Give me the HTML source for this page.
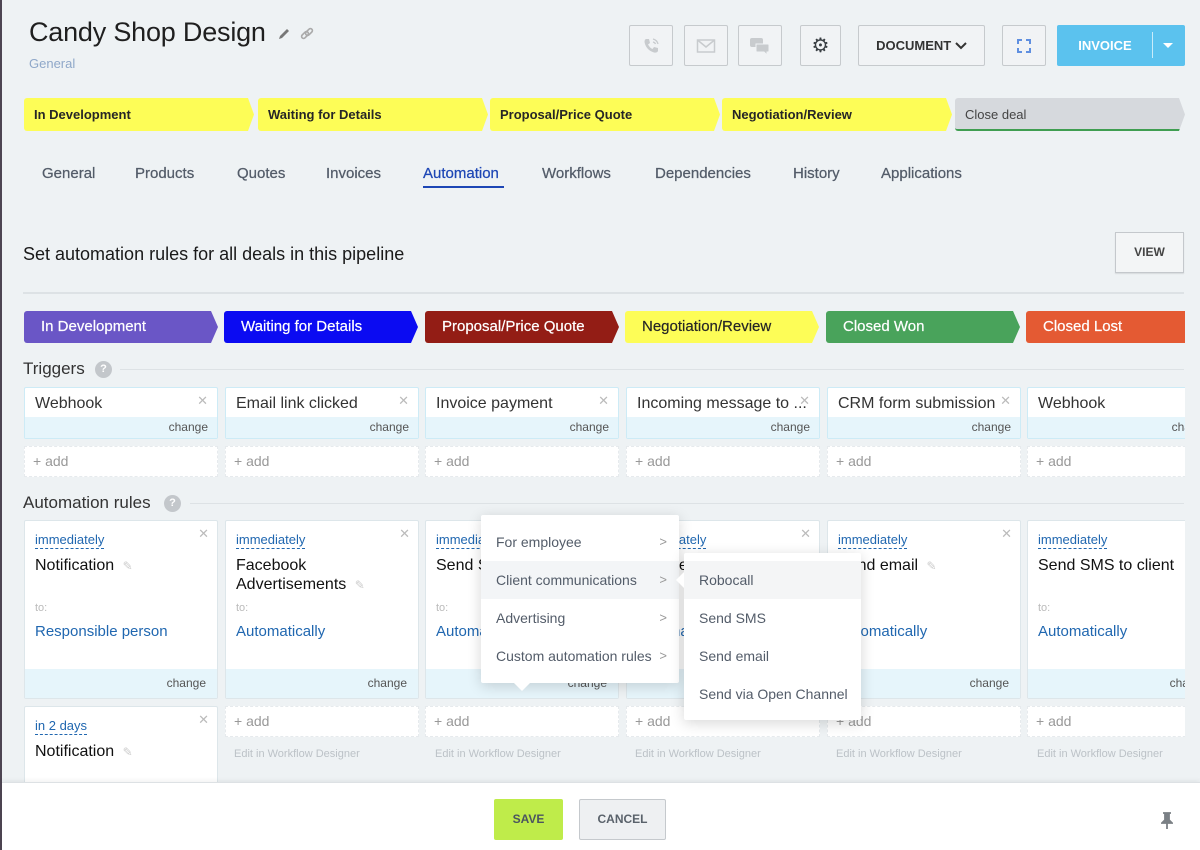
<!DOCTYPE html>
<html><head><meta charset="utf-8">
<style>
*{box-sizing:border-box;margin:0;padding:0}
body{width:1200px;height:850px;overflow:hidden;background:#eef2f4;font-family:"Liberation Sans",Arial,sans-serif;position:relative;color:#333}
.a{position:absolute}
.btn{position:absolute;top:25px;height:41px;border:1px solid #c6cacd;border-radius:2px;background:#f1f3f5;display:flex;align-items:center;justify-content:center}
.s1{position:absolute;top:98px;height:33px;background:#fdfd57;clip-path:polygon(0 0,calc(100% - 6px) 0,100% 50%,calc(100% - 6px) 100%,0 100%);font-size:13px;font-weight:bold;color:#262626;line-height:33px;padding-left:10px;border-radius:3px}
.tab{position:absolute;top:165px;font-size:15px;color:#535c69;line-height:18px;-webkit-text-stroke:0.25px #535c69}
.s2{position:absolute;top:311px;height:32px;width:194px;clip-path:polygon(0 0,calc(100% - 7px) 0,100% 50%,calc(100% - 7px) 100%,0 100%);font-size:15px;color:#fff;line-height:32px;padding-left:17px;border-radius:3px;-webkit-text-stroke:0.2px currentColor}
.tc{position:absolute;top:387px;width:194px;height:52px;background:#fff;border:1px solid #cdebf6;border-radius:2px;overflow:hidden}
.tc .t{position:absolute;left:10px;top:6px;font-size:16px;color:#333;white-space:nowrap;line-height:20px}
.tc .x{position:absolute;right:9px;top:5px;font-size:13px;color:#bbb}
.tc .b{position:absolute;left:0;right:0;bottom:0;height:21px;background:#e6f5fb;font-size:12px;color:#555;text-align:right;padding-right:9px;line-height:21px}
.ad{position:absolute;width:194px;height:31px;background:#fff;border:1px dashed #e6eaed;font-size:14px;color:#999;line-height:29px;padding-left:8px}
.rc{position:absolute;top:520px;width:194px;height:179px;background:#fff;border:1px solid #dde6ea;border-radius:2px;overflow:hidden}
.rc .im{position:absolute;left:10px;top:11px;font-size:13px;color:#2067b0;line-height:16px;border-bottom:1px dashed #2067b0}
.rc .ti{position:absolute;left:10px;top:35px;font-size:16px;color:#111;line-height:19px;width:170px}
.rc .to{position:absolute;left:10px;top:81px;font-size:11px;color:#bbb}
.rc .lk{position:absolute;left:10px;top:102px;font-size:15px;color:#2067b0;line-height:18px;white-space:nowrap}
.rc .x{position:absolute;right:8px;top:5px;font-size:13px;color:#bbb}
.rc .b{position:absolute;left:0;right:0;bottom:0;height:29px;background:#e6f5fb;font-size:12px;color:#555;text-align:right;padding-right:11px;line-height:29px}
.pen{color:#ccc;font-size:12px;margin-left:4px}
.ed{position:absolute;top:748px;font-size:11px;color:#bcc2c7}
.mi{position:absolute;left:0;right:0;height:38px;line-height:38px;font-size:14px;color:#535c69;padding-left:15px}
.mi .c{position:absolute;right:12px;top:0;color:#999;font-size:13px}
.sep{position:absolute;height:1px;background:#dde2e5}
.q{position:absolute;width:17px;height:17px;border-radius:50%;background:#c3c7cb;color:#fff;font-size:11px;text-align:center;line-height:17px;font-weight:bold}
</style></head><body>
<div class="a" style="left:0;top:0;width:2px;height:850px;background:#4d4552"></div>

<div class="a" style="left:29px;top:15px;font-size:27px;color:#1f1f1f;line-height:34px;letter-spacing:-0.2px">Candy Shop Design</div>
<svg class="a" style="left:277px;top:27px" width="14" height="14" viewBox="0 0 14 14"><path d="M2 12 L3 9 L10 2 L12 4 L5 11 Z" fill="#777"/></svg>
<svg class="a" style="left:299px;top:26px" width="16" height="16" viewBox="0 0 16 16"><g fill="none" stroke="#aaa" stroke-width="1.6"><rect x="2" y="7" width="8" height="4" rx="2" transform="rotate(-45 6 9)"/><rect x="6" y="4" width="8" height="4" rx="2" transform="rotate(-45 10 6)"/></g></svg>
<div class="a" style="left:29px;top:56px;font-size:13px;color:#8fa8c9">General</div>

<div class="btn" style="left:629px;width:44px"><svg width="20" height="20" viewBox="0 0 20 20"><path d="M5 3 L8 3 L9 7 L7 8.5 Q9 12 11.5 13 L13 11 L17 12 L17 15 Q16 17 13 16.5 Q5 14 3.5 6 Q3.5 3.5 5 3Z" fill="#c8cbce"/><path d="M12 3 Q16 4 17 8 M12 6 Q14 6.5 14.5 8" stroke="#c8cbce" fill="none" stroke-width="1.3"/></svg></div>
<div class="btn" style="left:684px;width:44px"><svg width="20" height="16" viewBox="0 0 20 16"><rect x="1.5" y="2" width="17" height="12" fill="none" stroke="#c8cbce" stroke-width="1.5"/><path d="M1.5 2 L10 9 L18.5 2" fill="none" stroke="#c8cbce" stroke-width="1.5"/></svg></div>
<div class="btn" style="left:738px;width:44px"><svg width="22" height="20" viewBox="0 0 22 20"><rect x="1" y="2" width="13" height="9" rx="2" fill="#c8cbce"/><path d="M7 8 L19 8 Q20 8 20 9 L20 15 Q20 16 19 16 L18 16 L18 19 L15 16 L8 16 Q7 16 7 15Z" fill="#c8cbce" stroke="#f1f3f5" stroke-width="1"/></svg></div>
<div class="btn" style="left:800px;width:41px;font-size:20px;color:#3a3f44">⚙</div>
<div class="btn" style="left:858px;width:127px;font-size:13px;font-weight:bold;color:#333">DOCUMENT&nbsp;<svg width="12" height="8" viewBox="0 0 12 8"><path d="M1 1 L6 6 L11 1" fill="none" stroke="#333" stroke-width="2"/></svg></div>
<div class="btn" style="left:1002px;width:44px"><svg width="20" height="20" viewBox="0 0 20 20"><g fill="none" stroke="#5f8fe0" stroke-width="2"><path d="M4 8 L4 4 L8 4"/><path d="M12 4 L16 4 L16 8"/><path d="M16 12 L16 16 L12 16"/><path d="M8 16 L4 16 L4 12"/></g></svg></div>
<div class="a" style="left:1057px;top:25px;width:128px;height:41px;background:#5bc2ee;border-radius:2px"></div>
<div class="a" style="left:1057px;top:25px;width:96px;height:41px;line-height:41px;text-align:center;font-size:13px;font-weight:bold;color:#fff">INVOICE</div>
<div class="a" style="left:1152px;top:32px;width:1px;height:26px;background:#c9ecfa"></div>
<div class="a" style="left:1163px;top:43px;width:0;height:0;border-left:5px solid transparent;border-right:5px solid transparent;border-top:5px solid #fff"></div>

<div class="s1" style="left:24px;width:230px">In Development</div>
<div class="s1" style="left:258px;width:230px">Waiting for Details</div>
<div class="s1" style="left:490px;width:230px">Proposal/Price Quote</div>
<div class="s1" style="left:722px;width:230px">Negotiation/Review</div>
<div class="s1" style="left:955px;width:230px;background:#d6d9dd;font-weight:normal;color:#444;border-bottom:2px solid #3f9e51;line-height:33px">Close deal</div>

<div class="tab" style="left:42px">General</div>
<div class="tab" style="left:135px">Products</div>
<div class="tab" style="left:237px">Quotes</div>
<div class="tab" style="left:326px">Invoices</div>
<div class="tab" style="left:423px;color:#1d46b5;-webkit-text-stroke:0.25px #1d46b5">Automation</div>
<div class="a" style="left:423px;top:186px;width:81px;height:2px;background:#1d46b5"></div>
<div class="tab" style="left:542px">Workflows</div>
<div class="tab" style="left:655px">Dependencies</div>
<div class="tab" style="left:793px">History</div>
<div class="tab" style="left:881px">Applications</div>

<div class="a" style="left:23px;top:244px;font-size:18px;color:#1a1a1a;line-height:20px">Set automation rules for all deals in this pipeline</div>
<div class="a" style="left:1115px;top:232px;width:69px;height:41px;border:1px solid #c4c8cc;background:#f3f5f6;box-shadow:0 1px 1px rgba(0,0,0,.1);font-size:12px;font-weight:bold;color:#444;text-align:center;line-height:39px">VIEW</div>
<div class="sep" style="left:23px;top:292px;width:1161px;height:2px"></div>

<div style="position:absolute;left:0;top:0;width:1185px;height:850px;overflow:hidden">
<div class="s2" style="left:24px;background:#6a56c6">In Development</div>
<div class="s2" style="left:224px;background:#0b0bf2">Waiting for Details</div>
<div class="s2" style="left:425px;background:#931d15">Proposal/Price Quote</div>
<div class="s2" style="left:625px;background:#fdfd57;color:#262626">Negotiation/Review</div>
<div class="s2" style="left:826px;background:#49a35b">Closed Won</div>
<div class="s2" style="left:1026px;background:#e45a33;width:200px">Closed Lost</div>

<div class="a" style="left:23px;top:359px;font-size:17px;color:#333;line-height:20px">Triggers</div>
<div class="q" style="left:95px;top:361px">?</div>
<div class="sep" style="left:120px;top:369px;width:1064px"></div>

<div class="tc" style="left:24px"><div class="t">Webhook</div><div class="x">✕</div><div class="b">change</div></div>
<div class="tc" style="left:225px"><div class="t">Email link clicked</div><div class="x">✕</div><div class="b">change</div></div>
<div class="tc" style="left:425px"><div class="t">Invoice payment</div><div class="x">✕</div><div class="b">change</div></div>
<div class="tc" style="left:626px"><div class="t">Incoming message to ...</div><div class="x">✕</div><div class="b">change</div></div>
<div class="tc" style="left:827px"><div class="t">CRM form submission</div><div class="x">✕</div><div class="b">change</div></div>
<div class="tc" style="left:1027px"><div class="t">Webhook</div><div class="x">✕</div><div class="b">change</div></div>

<div class="ad" style="left:24px;top:446px">+ add</div>
<div class="ad" style="left:225px;top:446px">+ add</div>
<div class="ad" style="left:425px;top:446px">+ add</div>
<div class="ad" style="left:626px;top:446px">+ add</div>
<div class="ad" style="left:827px;top:446px">+ add</div>
<div class="ad" style="left:1027px;top:446px">+ add</div>

<div class="a" style="left:23px;top:493px;font-size:17px;color:#333;line-height:20px">Automation rules</div>
<div class="q" style="left:164px;top:495px">?</div>
<div class="sep" style="left:190px;top:503px;width:994px"></div>

<div class="rc" style="left:24px"><div class="im">immediately</div><div class="ti">Notification <span class="pen">✎</span></div><div class="to">to:</div><div class="lk">Responsible person</div><div class="x">✕</div><div class="b">change</div></div>
<div class="rc" style="left:225px"><div class="im">immediately</div><div class="ti">Facebook<br>Advertisements <span class="pen">✎</span></div><div class="to">to:</div><div class="lk">Automatically</div><div class="x">✕</div><div class="b">change</div></div>
<div class="rc" style="left:425px"><div class="im">immediately</div><div class="ti">Send SMS</div><div class="to">to:</div><div class="lk">Automatically</div><div class="x">✕</div><div class="b">change</div></div>
<div class="rc" style="left:626px"><div class="im">immediately</div><div class="ti">Send email</div><div class="to">to:</div><div class="lk">Automatically</div><div class="x">✕</div><div class="b">change</div></div>
<div class="rc" style="left:827px"><div class="im">immediately</div><div class="ti">Send email <span class="pen">✎</span></div><div class="to">to:</div><div class="lk">Automatically</div><div class="x">✕</div><div class="b">change</div></div>
<div class="rc" style="left:1027px"><div class="im">immediately</div><div class="ti">Send SMS to client</div><div class="to">to:</div><div class="lk">Automatically</div><div class="x">✕</div><div class="b">change</div></div>

<div class="rc" style="left:24px;top:706px;height:100px"><div class="im">in 2 days</div><div class="ti">Notification <span class="pen">✎</span></div><div class="x">✕</div></div>
<div class="ad" style="left:225px;top:706px">+ add</div>
<div class="ad" style="left:425px;top:706px">+ add</div>
<div class="ad" style="left:626px;top:706px">+ add</div>
<div class="ad" style="left:827px;top:706px">+ add</div>
<div class="ad" style="left:1027px;top:706px">+ add</div>
<div class="ed" style="left:234px">Edit in Workflow Designer</div>
<div class="ed" style="left:435px">Edit in Workflow Designer</div>
<div class="ed" style="left:635px">Edit in Workflow Designer</div>
<div class="ed" style="left:836px">Edit in Workflow Designer</div>
<div class="ed" style="left:1037px">Edit in Workflow Designer</div>
</div>

<!-- popup menu -->
<div class="a" style="left:481px;top:515px;width:198px;height:168px;background:#fff;box-shadow:0 3px 14px rgba(0,0,0,.16);border-radius:2px">
<div class="mi" style="top:8px">For employee<span class="c">&gt;</span></div>
<div class="mi" style="top:46px;background:#f3f5f7">Client communications<span class="c">&gt;</span></div>
<div class="mi" style="top:84px">Advertising<span class="c">&gt;</span></div>
<div class="mi" style="top:122px">Custom automation rules<span class="c">&gt;</span></div>
</div>
<div class="a" style="left:514px;top:683px;width:0;height:0;border-left:8px solid transparent;border-right:8px solid transparent;border-top:8px solid #fff"></div>

<div class="a" style="left:684px;top:553px;width:177px;height:167px;background:#fff;box-shadow:0 3px 14px rgba(0,0,0,.16);border-radius:2px">
<div class="mi" style="top:8px;background:#f4f5f6">Robocall</div>
<div class="mi" style="top:46px">Send SMS</div>
<div class="mi" style="top:84px">Send email</div>
<div class="mi" style="top:122px">Send via Open Channel</div>
</div>
<div class="a" style="left:676px;top:572px;width:0;height:0;border-top:8px solid transparent;border-bottom:8px solid transparent;border-right:8px solid #fff"></div>

<!-- footer -->
<div class="a" style="left:2px;top:782px;width:1198px;height:68px;background:#fff;border-top:1px solid #dde1e4;box-shadow:0 -2px 4px rgba(0,0,0,.05)"></div>
<div class="a" style="left:494px;top:799px;width:69px;height:41px;background:#bfec4a;border-radius:2px;font-size:12px;font-weight:bold;color:#4b5560;text-align:center;line-height:41px">SAVE</div>
<div class="a" style="left:579px;top:799px;width:87px;height:41px;background:#eef0f2;border:1px solid #c5c9cd;border-radius:2px;font-size:12px;font-weight:bold;color:#5a626b;text-align:center;line-height:39px">CANCEL</div>
<svg class="a" style="left:1161px;top:812px" width="12" height="18" viewBox="0 0 12 18"><path d="M2 1 L10 1 M4 1 L4 8 L1 11 L11 11 L8 8 L8 1 M6 11 L6 17" stroke="#7b8085" stroke-width="1.8" fill="#7b8085"/></svg>
</body></html>
